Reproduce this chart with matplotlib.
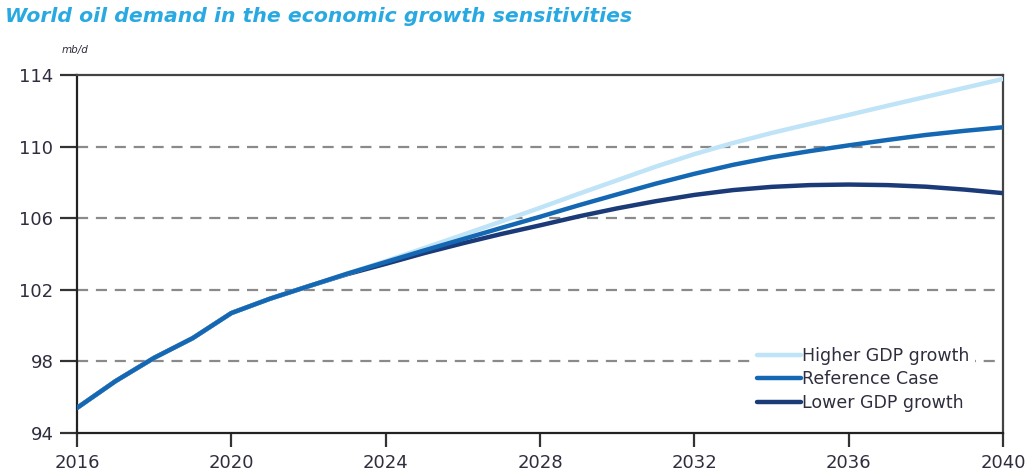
import matplotlib
matplotlib.use("Agg")
import matplotlib.pyplot as plt

years = list(range(2016, 2041))
reference = [95.4, 96.9, 98.2, 99.3, 100.7, 101.5, 102.2, 102.9, 103.55, 104.2,
             104.83, 105.46, 106.08, 106.72, 107.33, 107.93, 108.48, 108.98, 109.4,
             109.75, 110.07, 110.37, 110.65, 110.88, 111.08]
higher = [95.4, 96.9, 98.2, 99.3, 100.7, 101.5, 102.2, 102.9, 103.6, 104.33,
          105.07, 105.82, 106.58, 107.36, 108.12, 108.88, 109.58, 110.2, 110.76,
          111.27, 111.77, 112.28, 112.78, 113.28, 113.78]
lower = [95.4, 96.9, 98.2, 99.3, 100.7, 101.5, 102.2, 102.87, 103.45, 104.05,
         104.6, 105.12, 105.6, 106.1, 106.55, 106.95, 107.3, 107.57, 107.75,
         107.85, 107.88, 107.85, 107.76, 107.6, 107.4]
series_labels = ["Higher GDP growth", "Reference Case", "Lower GDP growth"]
x_ticks = [2016, 2020, 2024, 2028, 2032, 2036, 2040]
y_ticks = [94, 98, 102, 106, 110, 114]

fig = plt.figure(figsize=(10.28, 4.76), dpi=100)
ax = fig.add_axes([77/1028, 1-433/476, (1003-77)/1028, (433-75)/476])

text_col = "#2e2e3e"
c_high, c_ref, c_low = "#bfe3f7", "#1467b3", "#1b3a78"

for yv in y_ticks[1:-1]:
    ax.axhline(yv, color="#8a8a8a", lw=1.6, ls=(0, (5, 3.5)), zorder=1)

ax.plot(years, lower, color=c_low, lw=3.2, solid_capstyle="round", solid_joinstyle="round", zorder=3, label=series_labels[2])
ax.plot(years, higher, color=c_high, lw=3.2, solid_capstyle="round", solid_joinstyle="round", zorder=4, label=series_labels[0])
ax.plot(years, reference, color=c_ref, lw=3.2, solid_capstyle="round", solid_joinstyle="round", zorder=5, label=series_labels[1])

ax.set_xlim(2016, 2040)
ax.set_ylim(94, 114)
ax.set_xticks(x_ticks)
ax.set_yticks(y_ticks)
ax.tick_params(axis="y", length=12, width=1.6, color="#333333", pad=5, labelsize=13, labelcolor=text_col)
ax.tick_params(axis="x", length=10, width=1.6, color="#333333", pad=5, labelsize=13, labelcolor=text_col)
for s in ["left", "bottom"]:
    ax.spines[s].set_color("#222222")
    ax.spines[s].set_linewidth(1.6)
for s in ["top", "right"]:
    ax.spines[s].set_color("#444444")
    ax.spines[s].set_linewidth(1.6)

h = {l.get_label(): l for l in ax.get_lines()}
leg = ax.legend([h[k] for k in series_labels], series_labels, loc="upper left",
                bbox_to_anchor=((752-77)/926, (433-342)/358), frameon=True,
                facecolor="white", edgecolor="none", framealpha=1.0, fancybox=False,
                fontsize=12.5, borderpad=0.3, borderaxespad=0.0,
                handlelength=2.5, handletextpad=0.1, labelspacing=0.3)
leg.set_zorder(10)
for t in leg.get_texts():
    t.set_color(text_col)

fig.text(5/1028, 1-17/476, "World oil demand in the economic growth sensitivities",
         fontsize=14.7, fontweight="bold", fontstyle="italic", color="#29a9e1",
         va="center", ha="left")
fig.text(62/1028, 1-50/476, "mb/d", fontsize=7.5, fontstyle="italic", color=text_col,
         va="center", ha="left")

fig.savefig("out.png", dpi=100)
